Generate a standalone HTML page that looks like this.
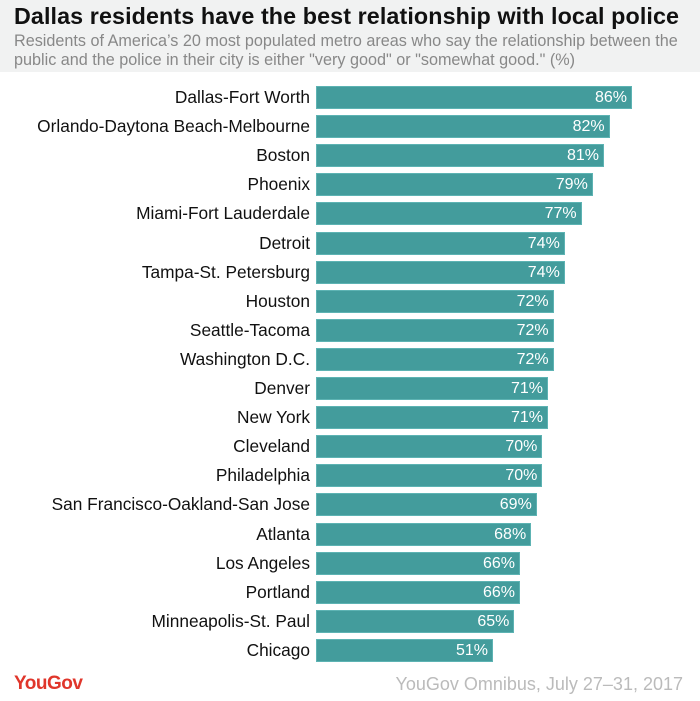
<!DOCTYPE html><html><head><style>
body{margin:0;width:700px;height:701px;background:#fff;font-family:"Liberation Sans",sans-serif;position:relative;overflow:hidden}
.hd{position:absolute;left:0;top:0;width:700px;height:72px;background:#f1f2f2}
.t{position:absolute;left:14px;top:3px;font-size:23.3px;font-weight:bold;color:#111;white-space:nowrap;letter-spacing:0.1px}
.s{position:absolute;left:14px;top:32px;font-size:16.2px;color:#888;line-height:19px;width:700px;white-space:nowrap}
.l{position:absolute;right:390px;width:320px;text-align:right;font-size:17.3px;color:#111;line-height:23px;white-space:nowrap}
.b{position:absolute;left:316px;height:23px;background:#439c9c;border:1px solid #5db3b3;box-sizing:border-box;color:#fff;font-size:16px;text-align:right;padding-right:4px;line-height:21px}
.yg{position:absolute;left:14px;top:673px;font-size:19px;font-weight:bold;color:#e0362b;letter-spacing:-0.5px}
.src{position:absolute;right:17px;top:674px;font-size:18px;color:#bbb}
</style></head><body>
<div class="hd"></div>
<div class="t">Dallas residents have the best relationship with local police</div>
<div class="s">Residents of America’s 20 most populated metro areas who say the relationship between the<br>public and the police in their city is either "very good" or "somewhat good." (%)</div>
<div id="c"></div>
<div class="yg">YouGov</div>
<div class="src">YouGov Omnibus, July 27–31, 2017</div>
<script>
var d=[["Dallas-Fort Worth",86],["Orlando-Daytona Beach-Melbourne",82],["Boston",81],["Phoenix",79],["Miami-Fort Lauderdale",77],["Detroit",74],["Tampa-St. Petersburg",74],["Houston",72],["Seattle-Tacoma",72],["Washington D.C.",72],["Denver",71],["New York",71],["Cleveland",70],["Philadelphia",70],["San Francisco-Oakland-San Jose",69],["Atlanta",68],["Los Angeles",66],["Portland",66],["Minneapolis-St. Paul",65],["Chicago",51]];
var h="";d.forEach(function(e,i){var y=86+i*29.1;var end=e[1]==51?493:632-(86-e[1])*5.6;
h+='<div class="l" style="top:'+y+'px">'+e[0]+'</div><div class="b" style="top:'+y+'px;width:'+(end-316)+'px">'+e[1]+'%</div>';});
document.getElementById("c").innerHTML=h;
</script>
</body></html>
